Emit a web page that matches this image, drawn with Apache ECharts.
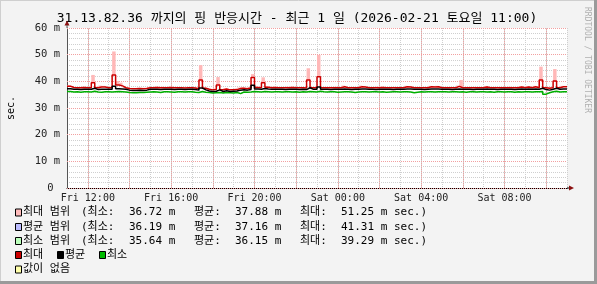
<!DOCTYPE html>
<html>
<head>
<meta charset="utf-8">
<script src="https://cdn.jsdelivr.net/npm/echarts@6/dist/echarts.min.js"></script>
<style>
html,body{margin:0;padding:0;background:#f3f3f3;}
#c{width:597px;height:284px;}
</style>
</head>
<body>
<div id="c"></div>
<script>
// ---- data (10-minute steps from Fri 11:00 to Sat 11:00, minutes since Fri 00:00) ----
const timeStart = 660;
const timeStep = 10;
const timeEnd = 2100;

const maxLine = [
  38.2, 37.7, 37.6, 37.6, 37.7, 37.6, 37.6, 39.5, 37.6, 37.9, 37.9, 37.6,
  37.7, 42.4, 38.6, 38.3, 37.6, 37.3, 37.2, 37.2, 37.3, 37.2, 37.3, 37.6,
  37.6, 37.7, 37.6, 37.6, 37.6, 37.7, 37.6, 37.6, 37.6, 37.5, 37.6, 37.6,
  37.5, 37.2, 40.5, 37.4, 37.0, 36.8, 36.9, 38.6, 36.8, 37.1, 36.8, 36.8,
  36.9, 37.3, 37.4, 37.2, 37.5, 41.4, 37.7, 37.6, 39.5, 37.8, 37.6, 37.7,
  37.6, 37.6, 37.6, 37.6, 37.7, 37.6, 37.6, 37.6, 37.5, 40.5, 37.6, 37.6,
  41.7, 37.6, 37.6, 37.6, 37.6, 37.6, 37.6, 38.0, 37.6, 37.6, 37.6, 37.6,
  38.0, 37.9, 37.6, 37.6, 37.6, 37.6, 37.7, 37.6, 37.6, 37.6, 37.6, 37.6,
  37.6, 38.0, 37.9, 37.6, 37.6, 37.6, 37.6, 37.6, 38.0, 37.9, 38.0, 37.6,
  37.6, 37.6, 37.6, 37.6, 38.1, 37.6, 37.6, 37.6, 37.6, 37.6, 37.6, 37.6,
  37.9, 37.6, 37.6, 37.6, 37.6, 37.6, 37.6, 37.6, 37.6, 37.6, 37.9, 37.6,
  37.9, 37.6, 38.0, 37.6, 40.5, 37.6, 37.4, 37.6, 40.1, 37.6, 38.0, 38.0
];
const maxRangeTop = [
  38.5, 38.2, 37.9, 37.9, 38.0, 37.9, 37.9, 42.4, 38.0, 38.4, 38.3, 37.9,
  38.0, 51.2, 40.1, 39.5, 37.9, 37.6, 37.5, 37.5, 37.6, 37.5, 37.6, 37.9,
  37.9, 38.0, 37.9, 38.0, 37.9, 38.0, 37.9, 37.9, 37.9, 37.8, 37.9, 37.9,
  37.8, 37.6, 46.1, 37.8, 37.3, 37.1, 37.3, 41.6, 37.1, 37.5, 37.1, 37.1,
  37.2, 37.7, 37.8, 37.5, 37.9, 42.7, 38.1, 37.9, 41.5, 38.2, 37.9, 38.0,
  37.9, 37.9, 37.9, 38.0, 38.0, 37.9, 37.9, 37.9, 37.8, 44.9, 37.9, 37.9,
  49.9, 37.9, 37.9, 37.9, 37.9, 38.0, 37.9, 38.4, 37.9, 37.9, 37.9, 37.9,
  38.4, 38.2, 37.9, 37.9, 37.9, 38.0, 38.0, 37.9, 37.9, 37.9, 37.9, 37.9,
  37.9, 38.3, 38.2, 37.9, 37.9, 37.9, 37.9, 37.9, 38.3, 38.2, 38.3, 37.9,
  37.9, 37.9, 37.9, 37.9, 38.4, 40.5, 37.9, 37.9, 37.9, 37.9, 37.9, 37.9,
  38.2, 37.9, 37.9, 37.9, 37.9, 37.9, 37.9, 38.0, 37.9, 37.9, 38.2, 37.9,
  38.2, 37.9, 38.3, 37.9, 45.5, 37.9, 37.7, 37.9, 44.6, 37.9, 38.3, 38.3
];
const avgLine = [
  37.2, 37.0, 37.0, 36.9, 37.0, 37.0, 37.0, 37.4, 36.9, 37.0, 37.0, 37.0,
  37.0, 38.2, 37.2, 37.1, 37.0, 36.7, 36.6, 36.6, 36.7, 36.6, 36.7, 37.0,
  37.0, 37.0, 36.9, 37.0, 37.0, 37.0, 36.9, 37.0, 37.0, 36.9, 37.0, 37.0,
  36.9, 36.7, 37.5, 36.8, 36.4, 36.2, 36.3, 36.8, 36.2, 36.5, 36.2, 36.3,
  36.4, 36.7, 36.8, 36.7, 36.9, 38.5, 37.1, 37.0, 37.3, 37.1, 37.0, 37.0,
  37.0, 37.0, 36.9, 37.0, 37.0, 37.0, 36.9, 37.0, 36.9, 37.6, 37.0, 37.0,
  37.9, 37.0, 37.0, 36.9, 37.0, 37.0, 37.0, 37.1, 37.0, 36.9, 37.0, 37.0,
  37.1, 37.1, 37.0, 37.0, 36.9, 37.0, 37.0, 37.0, 37.0, 36.9, 37.0, 37.0,
  37.0, 37.1, 37.1, 37.0, 37.0, 37.0, 36.9, 37.0, 37.1, 37.1, 37.1, 37.0,
  37.0, 37.0, 36.9, 37.0, 37.1, 37.0, 37.0, 37.0, 36.9, 37.0, 37.0, 37.0,
  37.1, 37.0, 37.0, 36.9, 37.0, 37.0, 37.0, 37.0, 36.9, 37.0, 37.1, 37.0,
  37.1, 37.0, 37.1, 37.0, 37.4, 36.9, 36.7, 37.0, 37.4, 37.0, 37.1, 37.1
];
const minLine = [
  36.2, 36.0, 36.1, 35.9, 36.1, 36.1, 36.0, 36.3, 36.0, 35.9, 36.1, 36.1,
  36.0, 36.1, 36.2, 36.1, 36.0, 35.8, 35.7, 35.7, 35.8, 35.8, 35.9, 36.0,
  36.1, 36.0, 35.8, 36.1, 36.1, 36.0, 35.9, 36.1, 36.1, 36.0, 36.1, 36.1,
  35.9, 35.8, 36.2, 35.9, 35.8, 35.6, 35.7, 35.8, 35.6, 35.8, 35.7, 35.6,
  35.8, 35.4, 36.0, 35.9, 36.0, 36.2, 36.1, 36.0, 36.2, 36.1, 36.0, 36.1,
  36.1, 36.0, 36.1, 36.1, 36.0, 36.1, 35.9, 36.1, 36.0, 36.2, 36.1, 36.0,
  36.3, 36.1, 36.0, 36.1, 36.1, 35.9, 36.0, 36.1, 36.1, 36.0, 35.8, 36.0,
  36.1, 36.1, 36.0, 36.1, 36.1, 36.0, 36.1, 35.9, 36.0, 36.1, 36.1, 36.0,
  36.1, 36.1, 36.0, 35.7, 35.9, 36.1, 36.0, 36.1, 36.1, 36.0, 36.1, 36.1,
  36.1, 36.0, 36.1, 36.1, 36.0, 36.1, 35.9, 36.1, 36.1, 36.0, 36.1, 36.1,
  36.0, 36.1, 35.9, 36.1, 36.1, 36.0, 36.1, 36.1, 35.9, 36.1, 36.0, 36.1,
  36.1, 36.0, 36.1, 36.1, 36.2, 35.2, 35.7, 36.1, 36.3, 36.0, 36.1, 36.1
];

// ---- ticks / labels ----
const xLabelTimes = [720, 960, 1200, 1440, 1680, 1920];
const xLabels = ['Fri 12:00', 'Fri 16:00', 'Fri 20:00', 'Sat 00:00', 'Sat 04:00', 'Sat 08:00'];
const majorGridTimes = [720, 840, 960, 1080, 1200, 1320, 1440, 1560, 1680, 1800, 1920, 2040];
const yLabels = ['0 ', '10 m', '20 m', '30 m', '40 m', '50 m', '60 m'];

const titleText = '31.13.82.36 까지의 핑 반응시간 - 최근 1 일 (2026-02-21 토요일 11:00)';
const rangeNames = ['최대 범위', '평균 범위', '최소 범위'];
const statMin = ['36.72', '36.19', '35.64'];
const statAvg = ['37.88', '37.16', '36.15'];
const statMax = ['51.25', '41.31', '39.29'];
const lineNames = ['최대', '평균', '최소'];
const noDataName = '값이 없음';

// ---- build ----
function steps(arr) {
  const out = arr.map((v, i) => [timeStart + i * timeStep, v]);
  out.push([timeEnd, arr[arr.length - 1]]);
  return out;
}
const bandData = maxLine.map((v, i) => [timeStart + i * timeStep, v, maxRangeTop[i]]);

const MONO = '"DejaVu Sans Mono", "Noto Sans CJK KR", monospace';
const C_RED = '#cc0000', C_BLACK = '#000000', C_GREEN = '#00b000', C_PINK = '#ffb8b8';
const C_MINOR = '#cfcfcf', C_MAJOR = '#f2a0a0';

const chart = echarts.init(document.getElementById('c'), null, {renderer: 'canvas'});

const graphics = [];
// frame
graphics.push({type: 'rect', shape: {x: 0, y: 0, width: 597, height: 284}, style: {fill: '#f3f3f3'}, z: -10, silent: true});
graphics.push({type: 'line', shape: {x1: 0, y1: 0.5, x2: 597, y2: 0.5}, style: {stroke: '#cfcfcf', lineWidth: 1}, silent: true});
graphics.push({type: 'line', shape: {x1: 0.5, y1: 0, x2: 0.5, y2: 284}, style: {stroke: '#cfcfcf', lineWidth: 1}, silent: true});
graphics.push({type: 'line', shape: {x1: 0, y1: 282.5, x2: 597, y2: 282.5}, style: {stroke: '#9a9a9a', lineWidth: 3}, silent: true});
graphics.push({type: 'line', shape: {x1: 595.5, y1: 0, x2: 595.5, y2: 284}, style: {stroke: '#9a9a9a', lineWidth: 3}, silent: true});
// title
graphics.push({type: 'text', x: 297, y: 19, style: {text: titleText, font: '13px ' + MONO, fill: '#000', align: 'center', verticalAlign: 'middle'}, silent: true});
// side texts
graphics.push({type: 'text', x: 11, y: 108, rotation: Math.PI / 2, style: {text: 'sec.', font: '10px ' + MONO, fill: '#000', align: 'center', verticalAlign: 'middle'}, silent: true});
graphics.push({type: 'text', x: 587, y: 60, rotation: -Math.PI / 2, style: {text: 'RRDTOOL / TOBI OETIKER', font: '8px ' + MONO, fill: '#b0b0b0', align: 'center', verticalAlign: 'middle'}, silent: true});
// axis arrows
graphics.push({type: 'polygon', shape: {points: [[569, 185.5], [574, 188], [569, 190.5]]}, style: {fill: '#8b1010'}, silent: true, z: 20});
graphics.push({type: 'line', shape: {x1: 567, y1: 188, x2: 569, y2: 188}, style: {stroke: '#000', lineWidth: 1}, silent: true, z: 20});
graphics.push({type: 'polygon', shape: {points: [[64.5, 25.5], [67, 20.5], [69.5, 25.5]]}, style: {fill: '#8b1010'}, silent: true, z: 20});
graphics.push({type: 'line', shape: {x1: 67, y1: 25, x2: 67, y2: 28}, style: {stroke: '#555', lineWidth: 1}, silent: true, z: 20});

// legend
const LF = '11px ' + MONO;
const rowY = [212.5, 227, 241, 255, 269.5];
const rangeColors = ['#ffbbbb', '#bbbbff', '#bbffbb'];
function box(x, y, color) {
  graphics.push({type: 'rect', shape: {x: x + 0.5, y: y - 3.5, width: 6, height: 7}, style: {fill: color, stroke: '#000', lineWidth: 1}, silent: true});
}
function txt(x, y, s) {
  graphics.push({type: 'text', x: x, y: y, style: {text: s, font: LF, fill: '#000', align: 'left', verticalAlign: 'middle'}, silent: true});
}
for (let r = 0; r < 3; r++) {
  const y = rowY[r];
  box(15, y, rangeColors[r]);
  txt(23, y, rangeNames[r]);
  txt(81, y, '(최소:');
  txt(129, y, statMin[r] + ' m');
  txt(194, y, '평균:');
  txt(235, y, statAvg[r] + ' m');
  txt(300, y, '최대:');
  txt(341, y, statMax[r] + ' m sec.)');
}
const lineBoxX = [15, 57, 99];
const lineColors = [C_RED, C_BLACK, '#00bb00'];
for (let k = 0; k < 3; k++) {
  box(lineBoxX[k], rowY[3], lineColors[k]);
  txt(lineBoxX[k] + 8, rowY[3], lineNames[k]);
}
box(15, rowY[4], '#ffffaa');
txt(23, rowY[4], noDataName);

const option = {
  animation: false,
  backgroundColor: '#f3f3f3',
  grid: {left: 67, top: 28, width: 500, height: 160, show: true, backgroundColor: '#ffffff', borderWidth: 0},
  xAxis: [{
    type: 'value', min: timeStart, max: timeEnd, interval: 60,
    axisLine: {show: true, onZero: false, lineStyle: {color: '#000', width: 1}},
    axisTick: {show: false},
    splitLine: {show: true, lineStyle: {color: C_MINOR, type: [1, 1], width: 1}},
    axisLabel: {
      show: true, margin: 5, color: '#222', fontSize: 10, fontFamily: MONO,
      formatter: v => { const k = xLabelTimes.indexOf(v); return k >= 0 ? xLabels[k] : ''; }
    }
  }],
  yAxis: [{
    type: 'value', min: 0, max: 60, interval: 2,
    axisLine: {show: true, lineStyle: {color: '#555', width: 1}},
    axisTick: {show: false}, axisLabel: {show: false},
    splitLine: {show: true, lineStyle: {color: C_MINOR, type: [1, 1], width: 1}}
  }, {
    type: 'value', min: 0, max: 60, interval: 10, position: 'left', z: 1,
    axisLine: {show: false}, axisTick: {show: false},
    splitLine: {show: true, lineStyle: {color: C_MAJOR, type: [1, 1], width: 1}},
    axisLabel: {show: true, margin: 7, color: '#222', fontSize: 10.5, fontFamily: MONO,
      formatter: v => yLabels[Math.round(v / 10)]}
  }],
  series: [
    {
      type: 'line', data: [], z: 1, silent: true,
      markLine: {
        silent: true, symbol: 'none', label: {show: false}, animation: false,
        lineStyle: {color: C_MAJOR, type: [1, 1], width: 1},
        data: majorGridTimes.map(t => ({xAxis: t}))
      }
    },
    {
      type: 'custom', z: 3, silent: true,
      encode: {x: 0, y: [1, 2]},
      data: bandData,
      renderItem: (params, api) => {
        const x0 = api.value(0), lo = api.value(1), hi = api.value(2);
        if (hi <= lo) return null;
        const p0 = api.coord([x0, hi]);
        const p1 = api.coord([x0 + timeStep, lo]);
        return {type: 'rect', shape: {x: p0[0], y: p0[1], width: p1[0] - p0[0], height: p1[1] - p0[1]}, style: {fill: C_PINK}};
      }
    },
    {type: 'line', name: '최대', data: steps(maxLine), step: 'end', symbol: 'none', z: 5,
      lineStyle: {color: C_RED, width: 1.5}},
    {type: 'line', name: '최소', data: steps(minLine), step: 'end', symbol: 'none', z: 5,
      lineStyle: {color: C_GREEN, width: 1.5}},
    {type: 'line', name: '평균', data: steps(avgLine), step: 'end', symbol: 'none', z: 6,
      lineStyle: {color: C_BLACK, width: 1.5}}
  ],
  graphic: graphics
};
chart.setOption(option);
</script>
</body>
</html>
